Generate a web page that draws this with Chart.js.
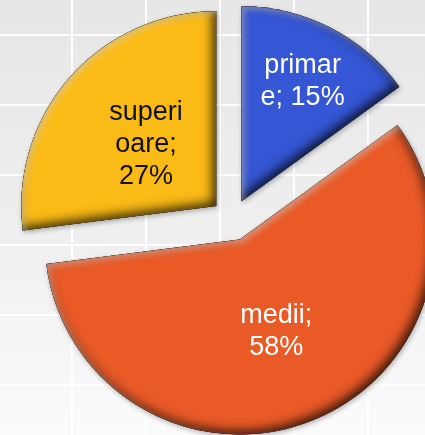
<!DOCTYPE html>
<html>
<head>
<meta charset="utf-8">
<script src="https://cdn.jsdelivr.net/npm/chart.js@4/dist/chart.umd.min.js"></script>
<style>
  html, body { margin: 0; padding: 0; background: #ececec; }
  #wrap { position: relative; width: 425px; height: 435px; }
</style>
</head>
<body>
<div id="wrap"><canvas id="pieChart"></canvas></div>
<script>
// dữ liệu biểu đồ
const categories = ["primare", "medii", "superioare"];
const percentValues = [15, 58, 27];
const sliceColors = ["#3557d5", "#e95a27", "#fbbb17"];
const labelColors = ["#ffffff", "#ffffff", "#111111"];

// nền xám nhạt có lưới trắng
const backgroundPlugin = {
  id: "bgGrid",
  beforeDraw(chart) {
    const { ctx, width, height } = chart;
    ctx.save();
    const g = ctx.createLinearGradient(0, 0, 0, height);
    g.addColorStop(0, "#e7e7e7");
    g.addColorStop(0.55, "#efefef");
    g.addColorStop(1, "#fbfbfb");
    ctx.fillStyle = g;
    ctx.fillRect(0, 0, width, height);
    ctx.strokeStyle = "rgba(255,255,255,0.95)";
    ctx.lineWidth = 2;
    for (let x = 72; x < width; x += 74) {
      ctx.beginPath();
      ctx.moveTo(x, 0);
      ctx.lineTo(x, height);
      ctx.stroke();
    }
    for (let y = 35; y < height; y += 70) {
      ctx.beginPath();
      ctx.moveTo(0, y);
      ctx.lineTo(width, y);
      ctx.stroke();
    }
    ctx.restore();
  },
};

// đường bao ngoài + lát cắt (để tô bóng bên trong)
function framePath(ctx, arc) {
  ctx.beginPath();
  ctx.rect(-2000, -2000, 5000, 5000);
  ctx.moveTo(arc.x, arc.y);
  ctx.arc(arc.x, arc.y, arc.outerRadius, arc.startAngle, arc.endAngle);
  ctx.closePath();
}

// vẽ các lát bánh tách rời + hiệu ứng vát cạnh
const explodePlugin = {
  id: "explode",
  beforeDatasetsDraw(chart, args, opts) {
    const { ctx } = chart;
    const meta = chart.getDatasetMeta(0);
    meta.data.forEach((arc) => {
      const mid = (arc.startAngle + arc.endAngle) / 2;
      ctx.save();
      ctx.translate(Math.cos(mid) * opts.distance, Math.sin(mid) * opts.distance);
      // bóng đổ
      ctx.shadowColor = "rgba(0,0,0,0.3)";
      ctx.shadowBlur = 5;
      ctx.shadowOffsetX = 1;
      ctx.shadowOffsetY = 2;
      arc.draw(ctx);
      // vát cạnh bên trong
      ctx.beginPath();
      ctx.moveTo(arc.x, arc.y);
      ctx.arc(arc.x, arc.y, arc.outerRadius, arc.startAngle, arc.endAngle);
      ctx.closePath();
      ctx.clip();
      ctx.fillStyle = "#000";
      framePath(ctx, arc);
      ctx.shadowColor = "rgba(0,0,0,0.85)";
      ctx.shadowBlur = 12;
      ctx.shadowOffsetX = -3;
      ctx.shadowOffsetY = -3;
      ctx.fill("evenodd");
      framePath(ctx, arc);
      ctx.shadowColor = "rgba(255,255,255,0.4)";
      ctx.shadowBlur = 6;
      ctx.shadowOffsetX = 3;
      ctx.shadowOffsetY = 3;
      ctx.fill("evenodd");
      ctx.restore();
    });
    return false;
  },
};

function wrapText(ctx, text, maxW) {
  const lines = [];
  let line = "";
  for (const word of text.split(" ")) {
    const test = line ? line + " " + word : word;
    if (ctx.measureText(test).width <= maxW) {
      line = test;
      continue;
    }
    if (line) {
      lines.push(line);
      line = "";
    }
    let rest = word;
    while (ctx.measureText(rest).width > maxW) {
      let i = rest.length;
      while (i > 1 && ctx.measureText(rest.slice(0, i)).width > maxW) i--;
      lines.push(rest.slice(0, i));
      rest = rest.slice(i);
    }
    line = rest;
  }
  if (line) lines.push(line);
  return lines;
}

// nhãn "tên; phần trăm" bên trong lát
const labelPlugin = {
  id: "sliceLabels",
  afterDraw(chart, args, opts) {
    const { ctx } = chart;
    const meta = chart.getDatasetMeta(0);
    const explode = chart.options.plugins.explode.distance;
    ctx.save();
    ctx.font = opts.font;
    ctx.textAlign = "center";
    ctx.textBaseline = "middle";
    meta.data.forEach((arc, i) => {
      const mid = (arc.startAngle + arc.endAngle) / 2;
      const r = explode + arc.outerRadius * opts.radial[i];
      const cx = arc.x + Math.cos(mid) * r;
      const cy = arc.y + Math.sin(mid) * r;
      const text = categories[i] + "; " + percentValues[i] + "%";
      const lines = wrapText(ctx, text, opts.maxWidth);
      ctx.fillStyle = labelColors[i];
      const top = cy - ((lines.length - 1) * opts.lineHeight) / 2;
      lines.forEach((ln, k) => ctx.fillText(ln, cx, top + k * opts.lineHeight));
    });
    ctx.restore();
  },
};

const ctx = document.getElementById("pieChart").getContext("2d");
new Chart(ctx, {
  type: "pie",
  data: {
    labels: categories,
    datasets: [
      {
        data: percentValues,
        backgroundColor: sliceColors,
        borderWidth: 0,
        clip: false,
      },
    ],
  },
  options: {
    responsive: true,
    maintainAspectRatio: false,
    animation: false,
    radius: 195,
    layout: { padding: { left: 39, top: 5, right: 0, bottom: 0 } },
    plugins: {
      legend: { display: false },
      tooltip: { enabled: false },
      explode: { distance: 21 },
      sliceLabels: {
        font: '27px "Liberation Sans", Arial, sans-serif',
        maxWidth: 86,
        lineHeight: 32,
        radial: [0.69, 0.51, 0.48],
      },
    },
  },
  plugins: [backgroundPlugin, explodePlugin, labelPlugin],
});
</script>
</body>
</html>
